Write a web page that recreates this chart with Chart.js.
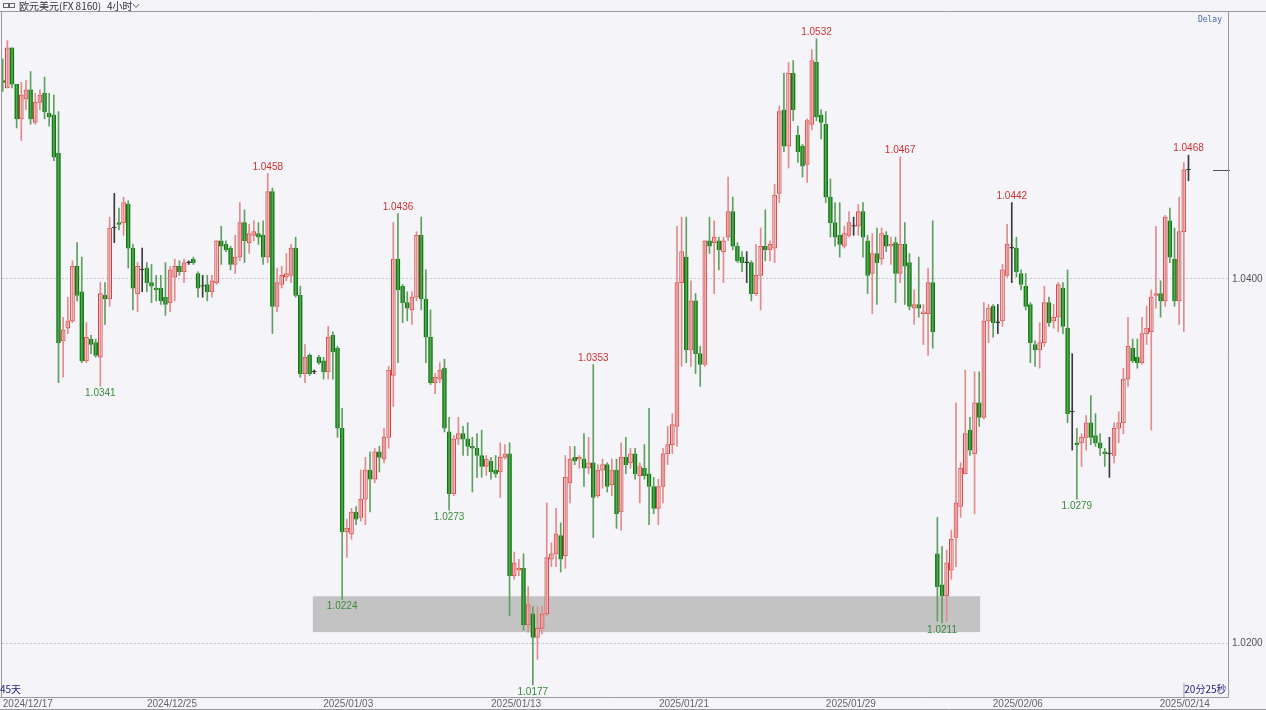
<!DOCTYPE html>
<html>
<head>
<meta charset="utf-8">
<script src="https://cdn.jsdelivr.net/npm/chart.js@4"></script>
<style>
  html, body { margin: 0; padding: 0; background: #f4f4f9; overflow: hidden; }
  #wrap { width: 1266px; height: 710px; position: relative; }
</style>
</head>
<body>
<div id="wrap"><canvas id="chart" width="1266" height="710"></canvas></div>
<script>
// EUR/USD 4h candles
const opens = [
  1.0509,1.0505,1.0527,1.0507,1.0488,1.0499,1.0504,1.0486,1.0497,1.0502,
  1.0491,1.0490,1.0469,1.0366,1.0373,1.0377,1.0407,1.0393,1.0355,1.0367,
  1.0365,1.0357,1.0391,1.0389,1.0428,1.0431,1.0431,1.0441,1.0417,1.0392,
  1.0405,1.0406,1.0398,1.0395,1.0395,1.0390,1.0387,1.0401,1.0407,1.0404,
  1.0409,1.0411,1.0403,1.0396,1.0397,1.0393,1.0398,1.0421,1.0419,1.0417,
  1.0408,1.0412,1.0431,1.0420,1.0424,1.0425,1.0424,1.0412,1.0448,1.0385,
  1.0397,1.0401,1.0402,1.0417,1.0391,1.0348,1.0358,1.0349,1.0357,1.0355,
  1.0349,1.0369,1.0362,1.0318,1.0261,1.0260,1.0272,1.0269,1.0279,1.0295,
  1.0290,1.0305,1.0301,1.0313,1.0347,1.0411,1.0396,1.0387,1.0383,1.0390,
  1.0424,1.0389,1.0368,1.0343,1.0345,1.0351,1.0316,1.0282,1.0312,1.0315,
  1.0312,1.0308,1.0307,1.0303,1.0297,1.0300,1.0295,1.0294,1.0302,1.0304,
  1.0237,1.0240,1.0241,1.0210,1.0216,1.0203,1.0208,1.0216,1.0246,1.0249,
  1.0259,1.0248,1.0288,1.0302,1.0301,1.0301,1.0296,1.0299,1.0281,1.0295,
  1.0298,1.0287,1.0295,1.0272,1.0302,1.0299,1.0304,1.0292,1.0296,1.0293,
  1.0286,1.0274,1.0286,1.0304,1.0309,1.0319,1.0398,1.0412,1.0361,1.0388,
  1.0359,1.0353,1.0421,1.0420,1.0421,1.0415,1.0423,1.0437,1.0418,1.0412,
  1.0409,1.0409,1.0392,1.0402,1.0418,1.0416,1.0417,1.0447,1.0493,1.0473,
  1.0513,1.0479,1.0473,1.0463,1.0485,1.0519,1.0490,1.0485,1.0445,1.0431,
  1.0424,1.0418,1.0424,1.0429,1.0429,1.0437,1.0421,1.0403,1.0414,1.0411,
  1.0424,1.0418,1.0420,1.0403,1.0419,1.0409,1.0384,1.0386,1.0381,1.0381,
  1.0398,1.0249,1.0232,1.0226,1.0240,1.0258,1.0275,1.0293,1.0317,1.0304,
  1.0332,1.0324,1.0377,1.0385,1.0376,1.0377,1.0402,1.0417,1.0417,1.0403,
  1.0396,1.0386,1.0364,1.0361,1.0365,1.0387,1.0377,1.0379,1.0395,1.0373,
  1.0327,1.0310,1.0310,1.0313,1.0321,1.0314,1.0310,1.0305,1.0304,1.0303,
  1.0318,1.0321,1.0345,1.0362,1.0357,1.0354,1.0370,1.0371,1.0391,1.0392,
  1.0388,1.0432,1.0411,1.0388,1.0426,1.0460
];
const highs = [
  1.0521,1.0531,1.0527,1.0507,1.0508,1.0509,1.0514,1.0502,1.0504,1.0511,
  1.0502,1.0501,1.0492,1.0379,1.0390,1.0410,1.0420,1.0412,1.0376,1.0369,
  1.0367,1.0398,1.0398,1.0434,1.0447,1.0439,1.0445,1.0443,1.0419,1.0409,
  1.0417,1.0409,1.0408,1.0402,1.0402,1.0409,1.0407,1.0411,1.0410,1.0411,
  1.0410,1.0412,1.0404,1.0402,1.0402,1.0402,1.0421,1.0429,1.0421,1.0418,
  1.0424,1.0442,1.0438,1.0430,1.0432,1.0431,1.0432,1.0458,1.0450,1.0406,
  1.0407,1.0414,1.0419,1.0423,1.0396,1.0364,1.0359,1.0350,1.0358,1.0357,
  1.0374,1.0371,1.0363,1.0329,1.0268,1.0274,1.0275,1.0295,1.0302,1.0305,
  1.0307,1.0308,1.0318,1.0352,1.0431,1.0436,1.0397,1.0393,1.0393,1.0426,
  1.0434,1.0405,1.0383,1.0348,1.0354,1.0356,1.0324,1.0314,1.0324,1.0319,
  1.0321,1.0313,1.0315,1.0317,1.0303,1.0302,1.0303,1.0310,1.0309,1.0310,
  1.0250,1.0246,1.0249,1.0231,1.0220,1.0220,1.0220,1.0277,1.0255,1.0274,
  1.0266,1.0303,1.0308,1.0308,1.0303,1.0315,1.0313,1.0353,1.0298,1.0301,
  1.0299,1.0301,1.0301,1.0310,1.0313,1.0307,1.0307,1.0299,1.0309,1.0329,
  1.0291,1.0290,1.0307,1.0319,1.0326,1.0429,1.0434,1.0434,1.0399,1.0392,
  1.0363,1.0421,1.0434,1.0432,1.0423,1.0423,1.0456,1.0445,1.0420,1.0415,
  1.0415,1.0410,1.0419,1.0428,1.0438,1.0421,1.0452,1.0495,1.0513,1.0519,
  1.0520,1.0484,1.0474,1.0488,1.0526,1.0532,1.0493,1.0492,1.0455,1.0442,
  1.0442,1.0429,1.0437,1.0434,1.0441,1.0442,1.0424,1.0425,1.0428,1.0428,
  1.0426,1.0423,1.0423,1.0467,1.0431,1.0414,1.0394,1.0412,1.0386,1.0406,
  1.0432,1.0269,1.0253,1.0251,1.0262,1.0332,1.0299,1.0350,1.0324,1.0349,
  1.0349,1.0387,1.0386,1.0386,1.0386,1.0408,1.0430,1.0442,1.0423,1.0405,
  1.0403,1.0387,1.0366,1.0376,1.0396,1.0390,1.0386,1.0398,1.0398,1.0405,
  1.0359,1.0318,1.0315,1.0325,1.0336,1.0326,1.0315,1.0307,1.0313,1.0321,
  1.0327,1.0351,1.0379,1.0367,1.0367,1.0379,1.0385,1.0394,1.0429,1.0399,
  1.0435,1.0439,1.0428,1.0445,1.0464,1.0468
];
const lows = [
  1.0503,1.0505,1.0505,1.0483,1.0476,1.0493,1.0485,1.0485,1.0493,1.0488,
  1.0484,1.0465,1.0343,1.0346,1.0370,1.0376,1.0388,1.0354,1.0354,1.0359,
  1.0357,1.0341,1.0375,1.0385,1.0420,1.0427,1.0424,1.0406,1.0383,1.0382,
  1.0393,1.0393,1.0387,1.0388,1.0386,1.0380,1.0382,1.0388,1.0402,1.0398,
  1.0408,1.0408,1.0390,1.0390,1.0388,1.0390,1.0397,1.0408,1.0415,1.0405,
  1.0403,1.0410,1.0409,1.0414,1.0421,1.0419,1.0408,1.0409,1.0370,1.0382,
  1.0395,1.0399,1.0398,1.0390,1.0346,1.0343,1.0347,1.0348,1.0353,1.0345,
  1.0345,1.0345,1.0313,1.0224,1.0247,1.0257,1.0265,1.0267,1.0265,1.0272,
  1.0288,1.0294,1.0299,1.0307,1.0330,1.0354,1.0376,1.0377,1.0375,1.0388,
  1.0383,1.0354,1.0342,1.0337,1.0343,1.0316,1.0273,1.0281,1.0309,1.0303,
  1.0303,1.0283,1.0291,1.0291,1.0292,1.0290,1.0291,1.0280,1.0301,1.0215,
  1.0235,1.0237,1.0207,1.0206,1.0177,1.0191,1.0205,1.0215,1.0242,1.0242,
  1.0239,1.0241,1.0277,1.0298,1.0296,1.0286,1.0293,1.0258,1.0280,1.0285,
  1.0283,1.0281,1.0263,1.0262,1.0293,1.0296,1.0290,1.0277,1.0290,1.0265,
  1.0271,1.0265,1.0277,1.0298,1.0304,1.0308,1.0352,1.0354,1.0352,1.0348,
  1.0341,1.0352,1.0414,1.0392,1.0405,1.0398,1.0421,1.0416,1.0409,1.0404,
  1.0398,1.0388,1.0391,1.0383,1.0410,1.0410,1.0409,1.0442,1.0470,1.0461,
  1.0487,1.0464,1.0456,1.0453,1.0482,1.0487,1.0477,1.0442,1.0423,1.0418,
  1.0412,1.0417,1.0423,1.0424,1.0424,1.0412,1.0392,1.0381,1.0386,1.0408,
  1.0415,1.0408,1.0387,1.0398,1.0386,1.0383,1.0375,1.0379,1.0364,1.0358,
  1.0362,1.0212,1.0211,1.0212,1.0235,1.0242,1.0269,1.0293,1.0303,1.0271,
  1.0319,1.0323,1.0365,1.0368,1.0370,1.0374,1.0401,1.0398,1.0401,1.0394,
  1.0383,1.0354,1.0352,1.0351,1.0363,1.0374,1.0373,1.0371,1.0370,1.0321,
  1.0306,1.0279,1.0297,1.0306,1.0309,1.0308,1.0303,1.0297,1.0291,1.0299,
  1.0310,1.0315,1.0341,1.0354,1.0351,1.0353,1.0364,1.0317,1.0384,1.0379,
  1.0385,1.0409,1.0385,1.0375,1.0371,1.0454
];
const closes = [
  1.0508,1.0527,1.0507,1.0488,1.0501,1.0504,1.0488,1.0497,1.0501,1.0492,
  1.0489,1.0467,1.0365,1.0372,1.0377,1.0407,1.0391,1.0355,1.0368,1.0364,
  1.0358,1.0392,1.0389,1.0428,1.0428,1.0430,1.0442,1.0417,1.0395,1.0407,
  1.0405,1.0398,1.0396,1.0394,1.0388,1.0386,1.0405,1.0407,1.0404,1.0409,
  1.0409,1.0409,1.0395,1.0396,1.0393,1.0399,1.0421,1.0418,1.0416,1.0408,
  1.0412,1.0431,1.0421,1.0425,1.0426,1.0423,1.0412,1.0448,1.0385,1.0398,
  1.0402,1.0403,1.0417,1.0391,1.0348,1.0357,1.0348,1.0349,1.0354,1.0349,
  1.0368,1.0360,1.0318,1.0261,1.0263,1.0272,1.0268,1.0279,1.0295,1.0290,
  1.0305,1.0302,1.0313,1.0350,1.0411,1.0394,1.0387,1.0384,1.0390,1.0424,
  1.0389,1.0368,1.0343,1.0346,1.0350,1.0318,1.0282,1.0312,1.0315,1.0312,
  1.0308,1.0307,1.0303,1.0297,1.0301,1.0294,1.0293,1.0302,1.0304,1.0237,
  1.0244,1.0241,1.0210,1.0221,1.0203,1.0208,1.0216,1.0247,1.0249,1.0260,
  1.0246,1.0291,1.0301,1.0300,1.0302,1.0296,1.0299,1.0280,1.0295,1.0298,
  1.0286,1.0295,1.0271,1.0302,1.0298,1.0304,1.0293,1.0297,1.0292,1.0286,
  1.0274,1.0286,1.0304,1.0309,1.0320,1.0398,1.0415,1.0361,1.0388,1.0359,
  1.0353,1.0421,1.0418,1.0423,1.0416,1.0421,1.0437,1.0418,1.0410,1.0409,
  1.0409,1.0392,1.0402,1.0418,1.0416,1.0419,1.0446,1.0492,1.0473,1.0513,
  1.0493,1.0470,1.0462,1.0487,1.0520,1.0489,1.0486,1.0445,1.0431,1.0423,
  1.0419,1.0425,1.0431,1.0429,1.0437,1.0423,1.0402,1.0414,1.0409,1.0425,
  1.0418,1.0419,1.0403,1.0419,1.0407,1.0385,1.0386,1.0384,1.0382,1.0398,
  1.0371,1.0231,1.0226,1.0244,1.0257,1.0277,1.0296,1.0315,1.0306,1.0332,
  1.0324,1.0377,1.0384,1.0376,1.0376,1.0405,1.0419,1.0417,1.0404,1.0397,
  1.0385,1.0365,1.0361,1.0365,1.0387,1.0376,1.0379,1.0397,1.0374,1.0326,
  1.0327,1.0309,1.0313,1.0321,1.0313,1.0310,1.0307,1.0304,1.0304,1.0318,
  1.0321,1.0345,1.0363,1.0355,1.0354,1.0370,1.0373,1.0390,1.0392,1.0388,
  1.0434,1.0412,1.0388,1.0426,1.0460,1.0460
];

// date ticks (candle index each date falls on)
const dateLabels = ["2024/12/17", "2024/12/25", "2025/01/03", "2025/01/13", "2025/01/21", "2025/01/29", "2025/02/06", "2025/02/14"];
const dateIdx = [5.4, 36.4, 74.3, 110.4, 146.5, 182.4, 218.3, 254.2];
const priceTicks = [1.02, 1.04];

// swing highs / lows that get a price label
const markIdx = [21, 57, 73, 85, 96, 114, 127, 175, 193, 202, 217, 231, 255];
const markSide = ["L", "H", "L", "H", "L", "L", "H", "H", "H", "L", "H", "L", "H"];

// support zone
const zoneFrom = 66.7, zoneTo = 210.2;
const zoneTop = 1.02257, zoneBottom = 1.0206;

const BG = "#f4f4f9";
const UP = "#d93b3b", DN = "#0b7f0b", UPW = "#e38b8b", DNW = "#5f9f5f", FLAT = "#3a3a3a";

const ids = opens.map((_, i) => i);
const dir = (i) => (closes[i] > opens[i] ? 1 : closes[i] < opens[i] ? -1 : 0);

const wickData = ids.map((i) => ({ x: i, y: [lows[i], highs[i]] }));
const bodyData = ids.map((i) => {
  let a = Math.min(opens[i], closes[i]);
  let b = Math.max(opens[i], closes[i]);
  if (b - a < 0.00004) b = a + 0.00004; // keep dojis visible
  return { x: i, y: [a, b] };
});

const fmt = (v) => v.toFixed(4);

const deco = {
  id: "deco",
  beforeDraw(c) {
    const ctx = c.ctx;
    ctx.save();
    ctx.fillStyle = BG;
    ctx.fillRect(0, 0, c.width, c.height);
    ctx.restore();
  },
  beforeDatasetsDraw(c) {
    const { ctx, scales: { x, y } } = c;
    const x0 = x.getPixelForValue(zoneFrom), x1 = x.getPixelForValue(zoneTo);
    const y0 = y.getPixelForValue(zoneTop), y1 = y.getPixelForValue(zoneBottom);
    ctx.save();
    ctx.fillStyle = "#c3c3c3";
    ctx.fillRect(x0, y0, x1 - x0, y1 - y0);
    ctx.restore();
  },
  afterDatasetsDraw(c) {
    const { ctx, chartArea, scales: { x, y } } = c;
    ctx.save();
    ctx.font = '10px "Liberation Sans", Arial, sans-serif';
    ctx.textAlign = "center";
    ctx.textBaseline = "middle";
    markIdx.forEach((i, k) => {
      const px = x.getPixelForValue(i);
      if (markSide[k] === "H") {
        ctx.fillStyle = "#cf3030";
        ctx.fillText(fmt(highs[i]), px, y.getPixelForValue(highs[i]) - 6.5);
      } else {
        ctx.fillStyle = "#3b8b3b";
        ctx.fillText(fmt(lows[i]), px, y.getPixelForValue(lows[i]) + 7);
      }
    });
    // last price marker
    const ly = Math.round(y.getPixelForValue(closes[closes.length - 1])) + 0.5;
    ctx.strokeStyle = "#555";
    ctx.lineWidth = 1;
    ctx.beginPath();
    ctx.moveTo(chartArea.right - 15, ly);
    ctx.lineTo(chartArea.right + 2, ly);
    ctx.stroke();
    ctx.restore();
  },
  afterDraw(c) {
    const { ctx, chartArea } = c;
    const r = Math.round(chartArea.right) + 0.5;
    const b = Math.round(chartArea.bottom) + 0.5;
    ctx.save();
    // frame
    ctx.strokeStyle = "#9a9a9a";
    ctx.lineWidth = 1;
    ctx.beginPath();
    ctx.moveTo(1.5, 12);
    ctx.lineTo(1.5, b);
    ctx.moveTo(r, 12);
    ctx.lineTo(r, b);
    ctx.moveTo(0, b);
    ctx.lineTo(r, b);
    ctx.moveTo(0, 11.5);
    ctx.lineTo(c.width, 11.5);
    ctx.moveTo(0, 709.5);
    ctx.lineTo(c.width, 709.5);
    ctx.stroke();

    // header
    ctx.strokeStyle = "#666";
    ctx.strokeRect(3.5, 3.5, 5, 4);
    ctx.strokeRect(9.5, 3.5, 5, 4);
    ctx.fillStyle = "#333";
    ctx.textBaseline = "middle";
    ctx.textAlign = "left";
    ctx.font = '10px "Noto Sans CJK SC", sans-serif';
    ctx.fillText("欧元美元(FX 8160)", 19, 6);
    ctx.fillText("4小时", 107, 6);
    ctx.beginPath();
    ctx.moveTo(133, 4);
    ctx.lineTo(136, 7.5);
    ctx.lineTo(139, 4);
    ctx.stroke();

    ctx.fillStyle = "#4a68b5";
    ctx.font = '8px "DejaVu Sans Mono", monospace';
    ctx.textAlign = "right";
    ctx.fillText("Delay", 1222, 20);

    ctx.fillStyle = "#23237e";
    ctx.font = '10px "Noto Sans CJK SC", sans-serif';
    ctx.textAlign = "left";
    ctx.fillText("45天", 0, 689);
    ctx.textAlign = "right";
    ctx.fillText("20分25秒", r - 2, 689);
    ctx.strokeStyle = "#9a9a9a";
    ctx.beginPath();
    ctx.moveTo(r - 44.5, 683);
    ctx.lineTo(r - 44.5, b);
    ctx.stroke();
    ctx.restore();
  },
};

new Chart(document.getElementById("chart"), {
  type: "bar",
  data: {
    datasets: [
      {
        data: wickData,
        grouped: false,
        barThickness: 1,
        borderWidth: 0,
        backgroundColor: ids.map((i) => (dir(i) > 0 ? UPW : dir(i) < 0 ? DNW : FLAT)),
      },
      {
        data: bodyData,
        grouped: false,
        barThickness: 4,
        borderWidth: 1,
        borderSkipped: false,
        backgroundColor: ids.map((i) => (dir(i) > 0 ? BG : dir(i) < 0 ? DN : FLAT)),
        borderColor: ids.map((i) => (dir(i) > 0 ? UP : dir(i) < 0 ? DN : FLAT)),
      },
    ],
  },
  options: {
    responsive: false,
    animation: false,
    layout: { padding: { top: 12, left: 2, right: 0, bottom: 0 } },
    plugins: { legend: { display: false }, tooltip: { enabled: false } },
    scales: {
      x: {
        type: "linear",
        offset: false,
        min: -0.15,
        max: 263.5,
        grid: { display: false, drawTicks: false, tickLength: 0 },
        border: { display: false },
        afterBuildTicks: (s) => { s.ticks = dateIdx.map((v) => ({ value: v })); },
        afterFit: (s) => { s.height = 13; },
        ticks: {
          autoSkip: false,
          maxRotation: 0,
          padding: 1,
          color: "#666",
          font: { size: 10, family: '"Liberation Sans", Arial, sans-serif' },
          callback: (v, i) => dateLabels[i],
        },
      },
      y: {
        type: "linear",
        position: "right",
        min: 1.017033,
        max: 1.05467,
        grid: { color: "#c6c6cc", drawTicks: false },
        border: { display: false, dash: [2, 2] },
        afterBuildTicks: (s) => { s.ticks = priceTicks.map((v) => ({ value: v })); },
        afterFit: (s) => { s.width = 38; },
        ticks: {
          padding: 4,
          color: "#555",
          font: { size: 10, family: '"Liberation Sans", Arial, sans-serif' },
          callback: (v) => fmt(v),
        },
      },
    },
  },
  plugins: [deco],
});
</script>
</body>
</html>
